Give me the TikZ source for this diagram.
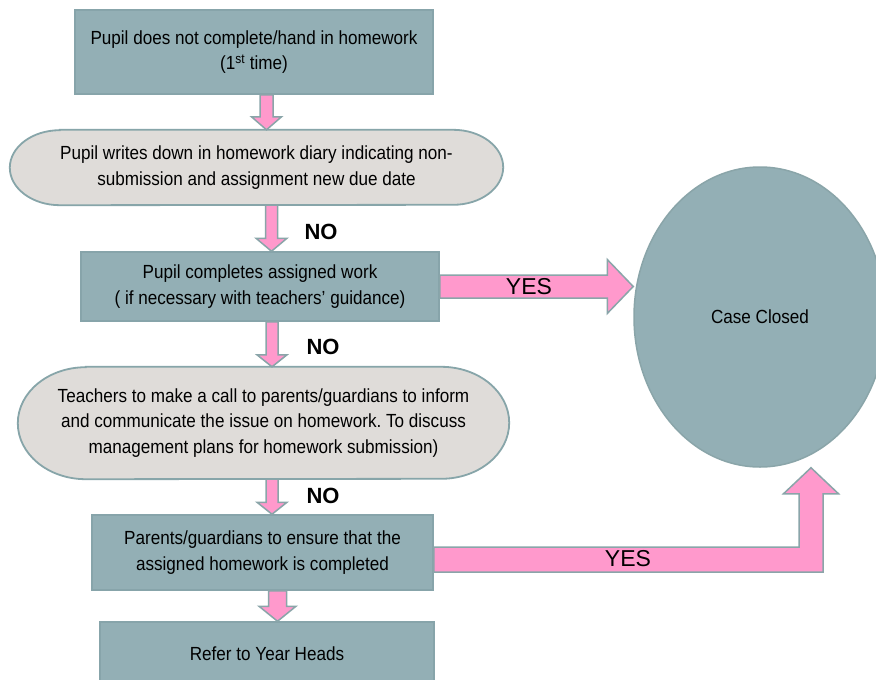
\documentclass[tikz,border=0pt]{standalone}
\usepackage{fontspec}
\setmainfont{Liberation Sans}[FakeStretch=0.9]
\newfontfamily\plainsans{Liberation Sans}
\usetikzlibrary{shapes.geometric,calc,backgrounds}
\definecolor{boxfill}{HTML}{93AFB5}
\definecolor{boxline}{HTML}{87A4AA}
\definecolor{stadfill}{HTML}{DFDCD9}
\definecolor{stadborder}{HTML}{87A5A9}
\definecolor{pinkfill}{HTML}{FF99CC}
\definecolor{arrline}{HTML}{8AA5A9}
\tikzset{
  txt/.style={font=\fontsize{19}{25.5}\selectfont, align=center, inner sep=0pt},
  stepbox/.style={txt, rectangle, draw=boxline, fill=boxfill, line width=1.5pt},
  stadtext/.style={txt, rectangle},
  stadshape/.style={draw=stadborder, fill=stadfill, line width=1.8pt},
  barrow/.style={draw=arrline, fill=pinkfill, line width=1.5pt, line join=miter},
  nolabel/.style={font=\plainsans\bfseries\fontsize{22}{26}\selectfont, inner sep=0pt},
  yeslabel/.style={font=\plainsans\fontsize{23}{27}\selectfont, inner sep=0pt},
  endnode/.style={txt, ellipse, draw=arrline, fill=boxfill, line width=1.5pt},
}
% #1 top point, #2 tip point, #3 shaft half width, #4 head half width, #5 head length
\newcommand{\MyArrDown}[5]{%
  \draw[barrow] let \p1=(#1), \p2=(#2) in
    (\x2-#3,\y1) -- (\x2+#3,\y1) -- (\x2+#3,\y2+#5) -- (\x2+#4,\y2+#5) --
    (\x2,\y2) -- (\x2-#4,\y2+#5) -- (\x2-#3,\y2+#5) -- cycle;}
\begin{document}
\frenchspacing
\begin{tikzpicture}[x=1pt,y=-1pt]
\useasboundingbox (0,0) rectangle (876,680);
\begin{scope}[on background layer]
  \fill[white] (0,0) rectangle (876,680);
\end{scope}

\node[stepbox, minimum width=358pt, minimum height=84pt] (b1) at (254,52)
  {Pupil does not complete/hand in homework\\(1\textsuperscript{st} time)};
\node[stadtext, minimum width=493pt, minimum height=75pt] (s2) at (256.5,167.5)
  {Pupil writes down in homework diary indicating non-\\submission and assignment new due date};
\node[stepbox, minimum width=358pt, minimum height=69pt] (b3) at (260,286.5)
  {Pupil completes assigned work\\( if necessary with teachers’ guidance)};
\node[stadtext, minimum width=491pt, minimum height=112pt] (s4) at (263.5,423)
  {Teachers to make a call to parents/guardians to inform\\and communicate the issue on homework. To discuss\\management plans for homework submission)};
\node[stepbox, minimum width=341pt, minimum height=75pt] (b5) at (262.5,552.5)
  {Parents/guardians to ensure that the\\assigned homework is completed};
\node[stepbox, minimum width=334pt, minimum height=64pt] (b6) at (267,654)
  {Refer to Year Heads};
\node[endnode, minimum width=252pt, minimum height=300pt] (cc) at (760,317)
  {Case Closed};

\begin{scope}[on background layer]
  \draw[stadshape] ([xshift=50pt]s2.north west) -- ([xshift=-50pt]s2.north east)
    arc[start angle=90, end angle=-90, x radius=50pt, y radius=37.5pt]
    -- ([xshift=50pt]s2.south west)
    arc[start angle=270, end angle=90, x radius=50pt, y radius=37.5pt] -- cycle;
  \draw[stadshape] ([xshift=68pt]s4.north west) -- ([xshift=-68pt]s4.north east)
    arc[start angle=90, end angle=-90, x radius=68pt, y radius=56pt]
    -- ([xshift=68pt]s4.south west)
    arc[start angle=270, end angle=90, x radius=68pt, y radius=56pt] -- cycle;
\end{scope}

% down arrows
\MyArrDown{b1.south}{$(s2.north)+(10,0)$}{6.5pt}{15pt}{13pt}
\MyArrDown{s2.south}{$(b3.north)+(11.5,0)$}{6pt}{15.5pt}{13pt}
\MyArrDown{b3.south}{$(s4.north)+(8.5,0)$}{6pt}{15pt}{12pt}
\MyArrDown{s4.south}{$(b5.north)+(9.5,0)$}{6pt}{15pt}{12pt}
\MyArrDown{b5.south}{$(b6.north)+(10.5,0)$}{9pt}{18.5pt}{15pt}

% YES arrow to the right
\draw[barrow] let \p1=(b3.east), \p2=(cc.west) in
  (\x1,\y1+11.5pt) -- (\x2-26pt,\y1+11.5pt) -- (\x2-26pt,\y1+27pt) -- (\x2,\y1)
  -- (\x2-26pt,\y1-27pt) -- (\x2-26pt,\y1-11.5pt) -- (\x1,\y1-11.5pt) -- cycle;

% YES elbow arrow up
\draw[barrow] let \p1=(b5.east), \p2=($(cc.south)+(51,0)$) in
  (\x1,\y1-7pt+12.5pt) -- (\x2-12pt,\y1-7pt+12.5pt) -- (\x2-12pt,\y2-26pt)
  -- (\x2-27.5pt,\y2-26pt) -- (\x2,\y2) -- (\x2+27.5pt,\y2-26pt)
  -- (\x2+12pt,\y2-26pt) -- (\x2+12pt,\y1-7pt-12.5pt) -- (\x1,\y1-7pt-12.5pt) -- cycle;

% labels
\node[nolabel] (no1) at (321,232) {NO};
\node[nolabel] (no2) at (323,347) {NO};
\node[nolabel] (no3) at (323,496) {NO};
\node[yeslabel] (yes1) at (529,287) {YES};
\node[yeslabel] (yes2) at (628,559) {YES};
\end{tikzpicture}
\end{document}
